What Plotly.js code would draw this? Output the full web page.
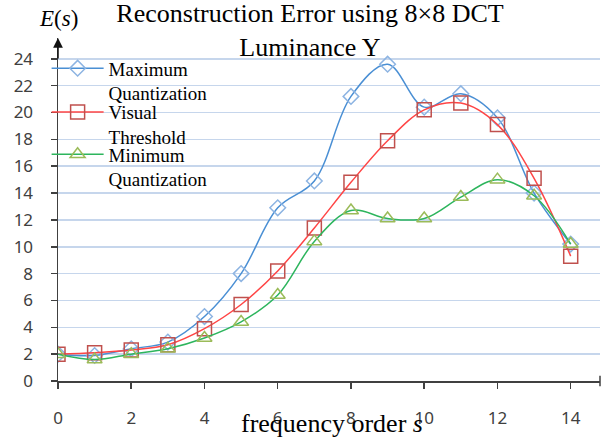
<!DOCTYPE html>
<html>
<head>
<meta charset="utf-8">
<script src="https://cdn.plot.ly/plotly-3.0.1.min.js"></script>
<style>html,body{margin:0;padding:0;background:#fff;}#chart{width:601px;height:446px;}</style>
</head>
<body>
<div id="chart"></div>
<script>
var freqOrder = [0, 1, 2, 3, 4, 5, 6, 7, 8, 9, 10, 11, 12, 13, 14];
var maxQuant = [2.0, 1.9, 2.4, 2.9, 4.8, 8.0, 12.9, 14.9, 21.2, 23.6, 20.4, 21.4, 19.6, 14.0, 10.2];
var visualThr = [2.0, 2.1, 2.3, 2.7, 3.9, 5.7, 8.2, 11.4, 14.8, 17.9, 20.2, 20.7, 19.1, 15.1, 9.3];
var minQuant = [2.0, 1.6, 2.0, 2.4, 3.2, 4.4, 6.4, 10.4, 12.7, 12.1, 12.1, 13.7, 15.0, 13.8, 10.2];
var seriesNames = ['Maximum<br>Quantization', 'Visual<br>Threshold', 'Minimum<br>Quantization'];
var xTicks = [0, 2, 4, 6, 8, 10, 12, 14];
var yTicks = [0, 2, 4, 6, 8, 10, 12, 14, 16, 18, 20, 22, 24];

var serif = 'Liberation Serif, Times New Roman, serif';
var sans = 'Noto Sans, DejaVu Sans, sans-serif';

var traces = [
  {x: freqOrder, y: maxQuant, name: seriesNames[0], type: 'scatter', mode: 'lines+markers',
   line: {color: '#4A8FD4', width: 1.5, shape: 'spline'},
   marker: {symbol: 'diamond-open', size: 12, color: '#8DB4E2', line: {width: 1.5, color: '#8DB4E2'}},
   legend: 'legend'},
  {x: freqOrder, y: visualThr, name: seriesNames[1], type: 'scatter', mode: 'lines+markers',
   line: {color: '#FF4545', width: 1.5, shape: 'spline'},
   marker: {symbol: 'square-open', size: 14, color: '#C0504D', line: {width: 1.5, color: '#C0504D'}},
   legend: 'legend2'},
  {x: freqOrder, y: minQuant, name: seriesNames[2], type: 'scatter', mode: 'lines+markers',
   line: {color: '#2DB55D', width: 1.5, shape: 'spline'},
   marker: {symbol: 'triangle-up-open', size: 13, color: '#9BBB59', line: {width: 1.5, color: '#9BBB59'}},
   legend: 'legend3'}
];

function leg(y) {
  return {x: -0.021, y: y, xanchor: 'left', yanchor: 'top', bgcolor: 'rgba(0,0,0,0)',
          borderwidth: 0, valign: 'top', itemwidth: 52,
          font: {family: serif, size: 19, color: '#000'}};
}

var layout = {
  width: 601, height: 446,
  margin: {l: 58, r: 1, t: 38, b: 65},
  paper_bgcolor: '#fff', plot_bgcolor: '#fff',
  title: {text: 'Reconstruction Error using 8×8 DCT<br>Luminance Y',
          font: {family: serif, size: 26, color: '#000'},
          x: 310 / 601, xanchor: 'center', xref: 'container', y: 0.95, yanchor: 'top', yref: 'container'},
  showlegend: true,
  legend: leg(0.967),
  legend2: leg(0.839),
  legend3: leg(0.716),
  xaxis: {range: [0, 14.8], tickvals: xTicks, ticks: 'outside', ticklen: 6, tickwidth: 1.5,
          tickcolor: '#404040', showline: true, linecolor: '#404040', linewidth: 1.5,
          showgrid: false, zeroline: false, ticklabelstandoff: 15,
          tickfont: {family: sans, size: 17, color: '#404040'}},
  yaxis: {range: [0, 25.55], tickvals: yTicks, ticks: 'outside', ticklen: 6, tickwidth: 1.5,
          tickcolor: '#404040', showline: true, linecolor: '#404040', linewidth: 1.5,
          showgrid: true, gridcolor: '#C6D6EC', gridwidth: 1.5, zeroline: false,
          ticklabelstandoff: 14,
          tickfont: {family: sans, size: 17, color: '#404040'}},
  annotations: [
    {x: 0, y: 1, xref: 'x', yref: 'paper', text: '', showarrow: true, ax: 0, ay: 22,
     arrowhead: 2, arrowsize: 1.3, arrowwidth: 1.5, arrowcolor: '#111', standoff: 0},
    {x: 0, y: (381 - 33) / 343, xref: 'paper', yref: 'paper', xanchor: 'center', yanchor: 'bottom',
     text: '<i>E</i>(<i>s</i>)', showarrow: false, font: {family: serif, size: 23, color: '#000'}},
    {x: (332 - 58) / 542, y: -0.076, xref: 'paper', yref: 'paper', xanchor: 'center', yanchor: 'top',
     text: 'frequency order <i>s</i>', showarrow: false, font: {family: serif, size: 26, color: '#000'}}
  ],
  shapes: [
    {type: 'line', xref: 'paper', yref: 'paper', x0: 1, x1: 1, y0: -0.015, y1: 0.015,
     line: {color: '#404040', width: 1.5}}
  ]
};

Plotly.newPlot('chart', traces, layout, {displayModeBar: false, staticPlot: true});
</script>
</body>
</html>
